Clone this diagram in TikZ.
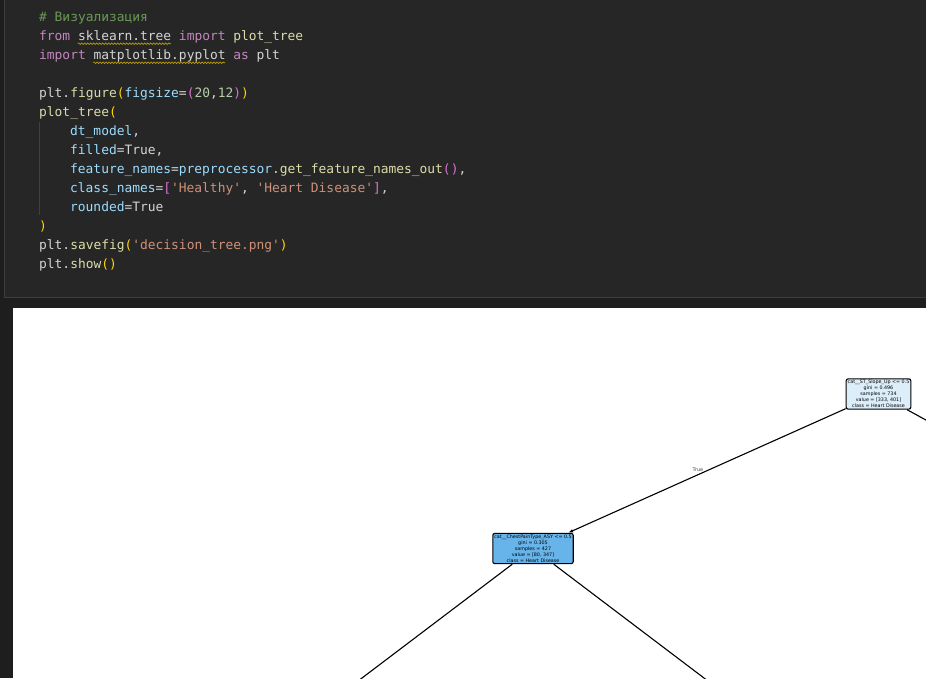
\documentclass[tikz,border=0pt]{standalone}
\usepackage{fontspec}
\usepackage{xcolor}
\usepackage{tikz}
\usetikzlibrary{arrows.meta,decorations.pathmorphing}
\setmonofont{DejaVu Sans Mono}
\newfontfamily\plotfont{DejaVu Sans}
% VS Code colours
\definecolor{outerbg}{HTML}{1E1E1E}
\definecolor{cellbg}{HTML}{262626}
\definecolor{cellline}{HTML}{3C3C42}
\definecolor{codetxt}{HTML}{D4D4D4}
\definecolor{kw}{HTML}{C586C0}
\definecolor{fn}{HTML}{DCDCAA}
\definecolor{var}{HTML}{9CDCFE}
\definecolor{strg}{HTML}{CE9178}
\definecolor{numb}{HTML}{B5CEA8}
\definecolor{cmt}{HTML}{6A9955}
\definecolor{bro}{HTML}{FFD700}
\definecolor{brt}{HTML}{DA70D6}
\definecolor{squig}{HTML}{CCA700}
\definecolor{guide}{HTML}{404040}
% tree colours
\definecolor{rootblue}{HTML}{DDEEFB}
\definecolor{kidblue}{HTML}{67B4EB}
\newcommand{\ckw}[1]{\textcolor{kw}{#1}}
\newcommand{\cfn}[1]{\textcolor{fn}{#1}}
\newcommand{\cvar}[1]{\textcolor{var}{#1}}
\newcommand{\cstr}[1]{\textcolor{strg}{#1}}
\newcommand{\cnum}[1]{\textcolor{numb}{#1}}
\newcommand{\ccm}[1]{\textcolor{cmt}{#1}}
\newcommand{\cbo}[1]{\textcolor{bro}{#1}}
\newcommand{\cbt}[1]{\textcolor{brt}{#1}}
\begin{document}
\begin{tikzpicture}[x=1pt,y=-1pt,
	codeline/.style={anchor=base west,inner sep=0pt,text=codetxt,font=\ttfamily\fontsize{12.9}{19}\selectfont},
	squiggle/.style={draw=squig,line width=0.6pt,decorate,decoration={snake,amplitude=0.8pt,segment length=3pt}},
	treenode/.style={draw=black,line width=1.1pt,rounded corners=2pt,align=center,inner sep=1.5pt,font=\plotfont\fontsize{4.8}{5.9}\selectfont},
	edge/.style={draw=black,line width=1.1pt}]
	\useasboundingbox (0,0) rectangle (926,678);
	% Define the editor
	\fill[outerbg] (0,0) rectangle (926,678);
	\draw[cellline,fill=cellbg,line width=1pt] (4,-5) rectangle (935,297.5);
	\draw[guide,line width=0.8pt] (39.5,122) -- (39.5,215);
	% Add the code lines
	\foreach \k/\x/\t in {
		1/39/{\ccm{\# Визуализация}},
		2/39/{\ckw{from} sklearn.tree \ckw{import} \cfn{plot\_tree}},
		3/39/{\ckw{import} matplotlib.pyplot \ckw{as} plt},
		5/39/{plt.\cfn{figure}\cbo{(}\cvar{figsize}=\cbt{(}\cnum{20},\cnum{12}\cbt{)}\cbo{)}},
		6/39/{\cfn{plot\_tree}\cbo{(}},
		7/70/{\cvar{dt\_model},},
		8/70/{\cvar{filled}=True,},
		9/70/{\cvar{feature\_names}=\cvar{preprocessor}.\cfn{get\_feature\_names\_out}\cbt{()},},
		10/70/{\cvar{class\_names}=\cbt{[}\cstr{'Healthy'}, \cstr{'Heart Disease'}\cbt{]},},
		11/70/{\cvar{rounded}=True},
		12/39/{\cbo{)}},
		13/39/{plt.\cfn{savefig}\cbo{(}\cstr{'decision\_tree.png'}\cbo{)}},
		14/39/{plt.\cfn{show}\cbo{()}}}
		\node[codeline] (l\k) at (\x,{21.2+(\k-1)*19.02}) {\t};
	\draw[squiggle] ([xshift=38.75pt,yshift=-3.5pt]l2.base west) -- ++(93,0);
	\draw[squiggle] ([xshift=54.25pt,yshift=-3.5pt]l3.base west) -- ++(131.75,0);
	% Create the plot
	\fill[white] (13,308) rectangle (926,678);
	\begin{scope}
		\clip (13,308) rectangle (926,678);
		\node[treenode,fill=rootblue] (root) at (878.5,394) {cat\_\_ST\_Slope\_Up <= 0.5\\gini = 0.496\\samples = 734\\value = [333, 401]\\class = Heart Disease};
		\node[treenode,fill=kidblue] (chest) at (533,548.5) {cat\_\_ChestPainType\_ASY <= 0.5\\gini = 0.305\\samples = 427\\value = [80, 347]\\class = Heart Disease};
		\coordinate (rightkid) at (1160,548.5);
		\coordinate (lowleft) at (329,703);
		\coordinate (lowright) at (737,703);
		\draw[edge,-{Latex[length=5pt,width=3.5pt]}] (root) -- (chest);
		\draw[edge] (root) -- (rightkid);
		\foreach \c in {lowleft,lowright} \draw[edge] (chest) -- (\c);
		\node[font=\plotfont\fontsize{5}{6}\selectfont,text=black!70,inner sep=0pt] (truelbl) at (698,469.5) {True};
	\end{scope}
\end{tikzpicture}
\end{document}
